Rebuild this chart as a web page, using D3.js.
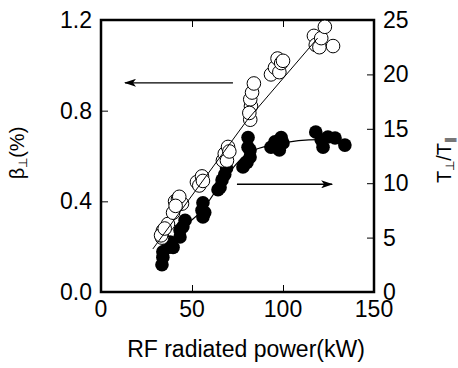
<!DOCTYPE html>
<html>
<head>
<meta charset="utf-8">
<script src="https://cdn.jsdelivr.net/npm/d3@7"></script>
<style>
  body { margin: 0; background: #fff; }
  svg { display: block; font-family: "Liberation Sans", Arial, sans-serif; }
</style>
</head>
<body>
<svg id="chart"></svg>
<script>
// beta_perp (%) vs RF power (kW), open circles, left axis
const betaPoints = [
  [33.5, 0.24], [34, 0.27], [36.8, 0.30], [33, 0.25], [35, 0.28],
  [39.6, 0.35], [40.7, 0.40], [42.3, 0.41], [44.5, 0.39], [43, 0.42], [41, 0.38],
  [52.7, 0.485], [55.5, 0.51], [54, 0.47], [56, 0.49],
  [67, 0.58], [68, 0.61], [69.2, 0.58], [69.8, 0.64], [70.5, 0.62],
  [82, 0.76], [82.4, 0.82], [82, 0.85], [83, 0.88], [84, 0.92], [81.5, 0.79],
  [93.4, 0.96], [95.6, 0.99], [97, 1.03], [98, 0.97], [99, 1.01], [100, 1.02],
  [117, 1.13], [118, 1.09], [120, 1.08], [121, 1.12], [123, 1.17], [127.5, 1.085]
];
const betaTrend = [[28.5, 0.19], [80, 0.755], [119, 1.12]];

// T_perp / T_par vs RF power (kW), filled circles, right axis
const ratioPoints = [
  [33.5, 2.5], [34, 3.2], [34, 3.7], [36.8, 4.1], [39.6, 4.1], [38, 4.6],
  [43.4, 5.05], [43.4, 5.7], [45, 6.0], [46.2, 6.6],
  [55.5, 7.5], [56, 6.9], [57, 7.3], [56, 8.2],
  [64.3, 9.4], [65.4, 9.6], [66.5, 10.3], [68, 10.8], [69, 11.4],
  [78, 11.5], [79.7, 11.9], [80.2, 11.9], [81.9, 12.4], [81.9, 13.05], [80.8, 13.3], [80.8, 14.2],
  [93.4, 13.3], [95.6, 13.8], [98, 13.05], [99, 14.2], [100, 13.7],
  [118, 14.7], [121, 14.0], [122, 13.3], [124.7, 14.25], [128.6, 14.15], [134, 13.5]
];
const ratioTrend = [[33, 2.6], [45, 5.8], [56, 7.6], [66, 10], [81, 12.8], [97, 13.6], [120, 14.0], [133, 13.5]];

// arrows pointing to the axis each series belongs to
const betaArrow = { y: 0.923, from: 72.5, to: 13.2 };
const ratioArrow = { y: 9.9, from: 74.7, to: 127 };

const xTicks = [0, 50, 100, 150];
const betaTicks = [0.0, 0.4, 0.8, 1.2];
const ratioTicks = [0, 5, 10, 15, 20, 25];

const width = 458, height = 368;
const margin = { top: 20, right: 84, bottom: 76, left: 101 };
const innerWidth = width - margin.left - margin.right;
const innerHeight = height - margin.top - margin.bottom;

const svg = d3.select('#chart').attr('width', width).attr('height', height);
const g = svg.append('g').attr('transform', `translate(${margin.left},${margin.top})`);

const x = d3.scaleLinear().domain([0, 150]).range([0, innerWidth]);
const yBeta = d3.scaleLinear().domain([0, 1.2]).range([innerHeight, 0]);
const yRatio = d3.scaleLinear().domain([0, 25]).range([innerHeight, 0]);

const tickLen = 7;
const fontTick = '23px';

// ticks (inside)
g.append('g').call(d3.axisBottom(x).tickValues(xTicks).tickSize(-tickLen))
  .attr('transform', `translate(0,${innerHeight})`);
g.append('g').call(d3.axisTop(x).tickValues(xTicks).tickSize(-tickLen));
g.append('g').call(d3.axisLeft(yBeta).tickValues(betaTicks).tickSize(-tickLen));
g.append('g').call(d3.axisRight(yRatio).tickValues(ratioTicks).tickSize(-tickLen))
  .attr('transform', `translate(${innerWidth},0)`);
g.selectAll('.domain').remove();
g.selectAll('.tick text').remove();
g.selectAll('.tick line').attr('stroke', '#000').attr('stroke-width', 1);

// tick labels
g.selectAll('.xlab').data(xTicks).join('text')
  .attr('x', d => x(d)).attr('y', innerHeight + 25)
  .attr('text-anchor', 'middle').attr('font-size', fontTick)
  .text(d => d);
g.selectAll('.blab').data(betaTicks).join('text')
  .attr('x', -9).attr('y', d => yBeta(d)).attr('dy', '0.35em')
  .attr('text-anchor', 'end').attr('font-size', fontTick)
  .text(d => d.toFixed(1));
g.selectAll('.rlab').data(ratioTicks).join('text')
  .attr('x', innerWidth + 9).attr('y', d => yRatio(d)).attr('dy', '0.35em')
  .attr('font-size', fontTick)
  .text(d => d);

// frame
g.append('rect')
  .attr('width', innerWidth).attr('height', innerHeight)
  .attr('fill', 'none').attr('stroke', '#000').attr('stroke-width', 2.5);

// axis titles
svg.append('text')
  .attr('x', 246).attr('y', 357)
  .attr('text-anchor', 'middle').attr('font-size', '23px')
  .text('RF radiated power(kW)');

const leftTitle = svg.append('text')
  .attr('transform', 'translate(24,153) rotate(-90)')
  .attr('text-anchor', 'middle').attr('font-size', '20px');
leftTitle.append('tspan').text('β');
leftTitle.append('tspan').attr('font-size', '12px').attr('dy', 3).text('⊥');
leftTitle.append('tspan').attr('dy', -3).text('(%)');

const rightTitle = svg.append('text')
  .attr('transform', 'translate(451,160) rotate(-90)')
  .attr('text-anchor', 'middle').attr('font-size', '20px');
rightTitle.append('tspan').text('T');
rightTitle.append('tspan').attr('font-size', '12px').attr('dy', 3).text('⊥');
rightTitle.append('tspan').attr('dy', -3).text('/T');
rightTitle.append('tspan').attr('font-size', '12px').attr('dy', 3).text('∥');

// T ratio: trend + filled circles
const lineRatio = d3.line().x(d => x(d[0])).y(d => yRatio(d[1])).curve(d3.curveMonotoneX);
g.append('path').datum(ratioTrend)
  .attr('fill', 'none').attr('stroke', '#000').attr('stroke-width', 1.2)
  .attr('d', lineRatio);
g.selectAll('.ratio').data(ratioPoints).join('circle')
  .attr('cx', d => x(d[0])).attr('cy', d => yRatio(d[1])).attr('r', 6.8)
  .attr('fill', '#000');

// beta: open circles + trend
const lineBeta = d3.line().x(d => x(d[0])).y(d => yBeta(d[1]));
g.selectAll('.beta').data(betaPoints).join('circle')
  .attr('cx', d => x(d[0])).attr('cy', d => yBeta(d[1])).attr('r', 6.8)
  .attr('fill', '#fff').attr('stroke', '#000').attr('stroke-width', 1);
g.append('path').datum(betaTrend)
  .attr('fill', 'none').attr('stroke', '#000').attr('stroke-width', 1)
  .attr('d', lineBeta);

// arrows
svg.append('defs').append('marker')
  .attr('id', 'head').attr('viewBox', '0 0 12 8')
  .attr('refX', 11).attr('refY', 4)
  .attr('markerWidth', 12).attr('markerHeight', 8)
  .attr('markerUnits', 'userSpaceOnUse').attr('orient', 'auto')
  .append('path').attr('d', 'M0,0 L12,4 L0,8 L3,4 Z').attr('fill', '#000');

g.append('line')
  .attr('x1', x(betaArrow.from)).attr('x2', x(betaArrow.to))
  .attr('y1', yBeta(betaArrow.y)).attr('y2', yBeta(betaArrow.y))
  .attr('stroke', '#000').attr('stroke-width', 1.3).attr('marker-end', 'url(#head)');
g.append('line')
  .attr('x1', x(ratioArrow.from)).attr('x2', x(ratioArrow.to))
  .attr('y1', yRatio(ratioArrow.y)).attr('y2', yRatio(ratioArrow.y))
  .attr('stroke', '#000').attr('stroke-width', 1.5).attr('marker-end', 'url(#head)');
</script>
</body>
</html>
